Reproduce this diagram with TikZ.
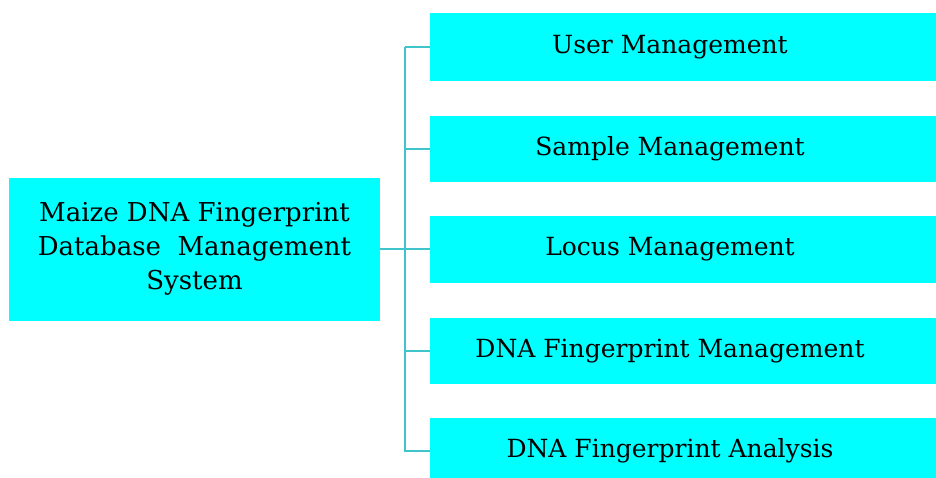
\documentclass[tikz,border=0pt]{standalone}
\usepackage{fontspec}
\setmainfont{DejaVu Serif}
\definecolor{boxfill}{RGB}{0,255,255}
\definecolor{linec}{RGB}{64,196,204}
\newcommand{\boxtextleft}[1]{\hspace*{-26pt}#1}
\begin{document}
\begin{tikzpicture}[x=1pt,y=-1pt,
  box/.style={fill=boxfill,draw=none,inner sep=0pt,font=\fontsize{25}{34}\selectfont,text=black},
  conn/.style={draw=linec,line width=2.2pt}]
\useasboundingbox (0,0) rectangle (936,477);
\node[box,minimum width=371pt,minimum height=143pt,align=center,font=\fontsize{26}{34}\selectfont] (main) at (194.5,249)
  {Maize DNA Fingerprint\\Database\ \ Management\\System};
\node[box,minimum width=506pt,minimum height=68pt] (b1) at (683,47) {\boxtextleft{User Management}};
\node[box,minimum width=506pt,minimum height=66pt] (b2) at (683,149) {\boxtextleft{Sample Management}};
\node[box,minimum width=506pt,minimum height=67pt] (b3) at (683,249.5) {\boxtextleft{Locus Management}};
\node[box,minimum width=506pt,minimum height=66pt] (b4) at (683,351) {\boxtextleft{DNA Fingerprint Management}};
\node[box,minimum width=506pt,minimum height=66pt] (b5) at (683,451) {\boxtextleft{DNA Fingerprint Analysis}};
\coordinate (t) at (405,47);
\coordinate (bt) at (405,452);
\draw[conn] (t) -- (bt);
\draw[conn] (main.east) -- (main.east -| b3.west);
\foreach \n in {b1,b2,b4,b5}{\draw[conn] (\n.west) -- (\n.west -| t);}
\end{tikzpicture}
\end{document}
